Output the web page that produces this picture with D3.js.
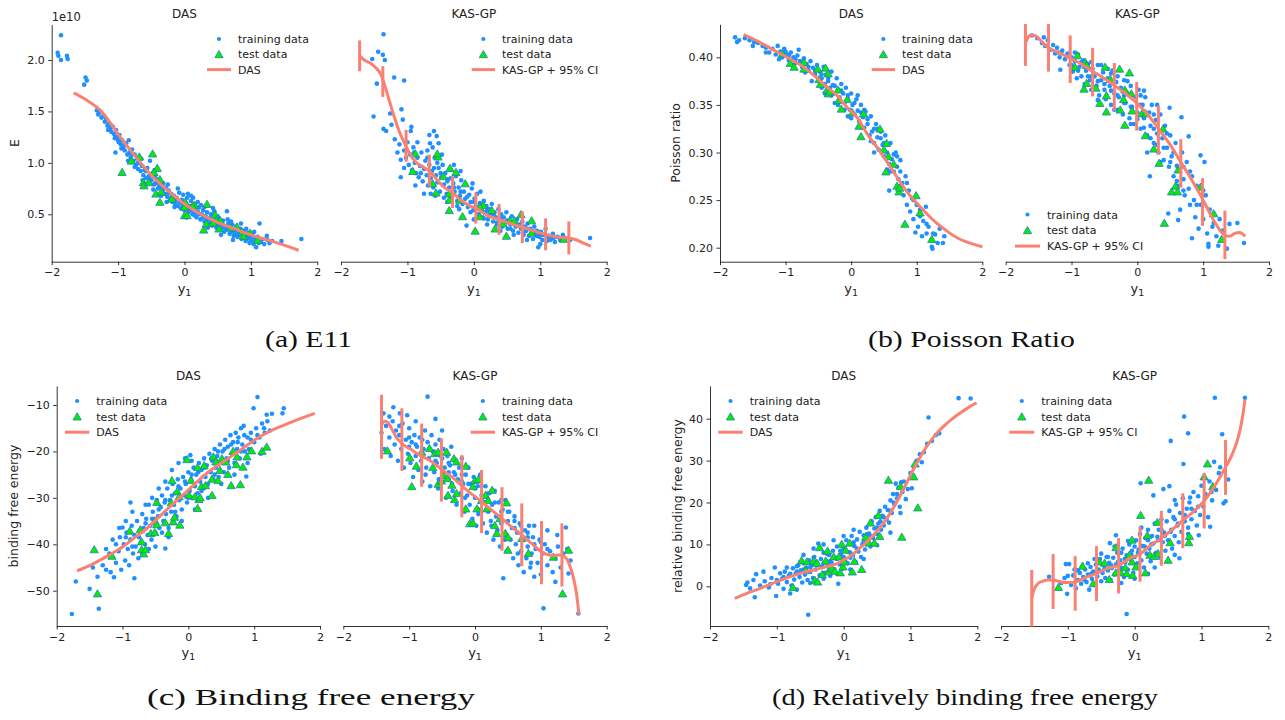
<!DOCTYPE html>
<html><head><meta charset="utf-8">
<script src="https://cdn.jsdelivr.net/npm/d3@7"></script>
<style>body{margin:0;background:#fff}svg{display:block}</style>
</head><body><svg id="c" width="1285" height="720"></svg>
<script>
// ---------------- DATA ----------------
const xTicks = [-2, -1, 0, 1, 2];
const aYTicks = [0.5, 1.0, 1.5, 2.0];
const bYTicks = [0.20, 0.25, 0.30, 0.35, 0.40];
const cYTicks = [-50, -40, -30, -20, -10];
const dYTicks = [0, 10, 20, 30, 40];
const titles = ["DAS", "KAS-GP"];
const legendLabels = ["training data", "test data"];
const lineLabels = ["DAS", "KAS-GP + 95% CI"];
const captions = ["(a) E11", "(b) Poisson Ratio", "(c) Binding free energy", "(d) Relatively binding free energy"];
const yLabels = ["E", "Poisson ratio", "binding free energy", "relative binding free energy"];

// (a) E11  (values in 1e10)
const aDasTrain = [[-1.90,2.04],[-1.91,2.07],[-1.86,2.24],[-1.86,2.00],[-1.77,2.04],[-1.76,2.01],[-1.49,1.83],[-1.51,1.76],[-1.47,1.80],
[-1.32,1.51],[-1.30,1.47],[-1.28,1.49],[-1.22,1.46],[-1.20,1.40],[-1.18,1.43],[-1.16,1.36],[-1.14,1.38],[-1.12,1.33],[-1.10,1.30],[-1.08,1.35],[-1.06,1.28],[-1.04,1.10],[-1.03,1.32],[-1.01,1.25],[-0.99,1.20],[-0.98,1.27],[-0.96,1.18],[-0.94,1.22],[-0.92,1.15],[-0.90,1.12],[-0.88,1.19],[-0.86,1.08],[-0.84,1.22],[-0.83,1.10],[-0.81,1.05],[-0.79,1.13],[-0.77,1.02],[-0.75,1.08],[-0.73,0.98],[-0.71,1.05],[-0.70,0.94],[-0.68,1.00],[-0.66,0.92],[-0.64,0.97],[-0.62,0.88],[-0.60,0.93],[-0.58,0.85],[-0.56,0.95],[-0.54,0.87],[-0.52,1.02],[-0.50,0.83],[-0.48,0.90],[-0.46,0.79],[-0.44,0.86],[-0.42,0.81],[-0.40,0.75],[-0.38,0.84],[-0.36,0.77],[-0.34,0.72],[-0.32,0.80],[-0.30,0.70],[-0.28,0.76],[-0.26,0.67],[-0.24,0.73],[-0.22,0.64],[-0.20,0.70],[-0.18,0.62],[-0.16,0.68],[-0.14,0.60],[-0.12,0.66],[-0.10,0.58],[-0.08,0.71],[-0.06,0.56],[-0.04,0.64],[-0.02,0.69],[0.00,0.54],[0.02,0.61],[0.04,0.66],[0.06,0.52],[0.08,0.58],[0.10,0.63],[0.12,0.50],[0.14,0.56],[0.16,0.60],[0.18,0.47],[0.20,0.53],[0.22,0.57],[0.24,0.45],[0.26,0.50],[0.28,0.54],[0.30,0.43],[0.32,0.48],[0.34,0.52],[0.36,0.41],[0.38,0.46],[0.40,0.50],[0.42,0.39],[0.44,0.44],[0.46,0.48],[0.48,0.37],[0.50,0.42],[0.52,0.46],[0.54,0.35],[0.56,0.40],[0.58,0.44],[0.60,0.33],[0.62,0.38],[0.64,0.53],[0.66,0.41],[0.68,0.31],[0.70,0.36],[0.72,0.40],[0.74,0.29],[0.76,0.34],[0.78,0.38],[0.80,0.28],[0.82,0.32],[0.84,0.36],[0.86,0.26],[0.88,0.31],[0.90,0.34],[0.92,0.24],[0.94,0.29],[0.96,0.32],[0.98,0.22],[1.00,0.27],[1.02,0.30],[1.04,0.21],[1.06,0.26],[1.08,0.18],[1.10,0.28],[1.13,0.41],[1.15,0.23],[1.18,0.26],[1.20,0.21],[1.24,0.29],[1.28,0.22],[1.32,0.24],[1.46,0.24],[1.76,0.26],
[-1.25,1.44],[-1.15,1.32],[-1.05,1.24],[-0.95,1.14],[-0.85,1.02],[-0.75,0.96],[-0.65,1.04],[-0.55,0.80],[-0.45,0.93],[-0.35,0.68],[-0.25,0.79],[-0.15,0.57],[-0.05,0.61],[0.05,0.70],[0.15,0.49],[0.25,0.59],[0.35,0.37],[0.45,0.53],[0.55,0.30],[0.65,0.45],[0.75,0.30],[0.85,0.41],[0.95,0.27],[1.05,0.33],[1.25,0.25],[-0.63,0.83],[-0.27,0.62],[0.03,0.47],[0.33,0.39],[0.63,0.35],[0.93,0.36],[-0.47,0.74],[0.13,0.66],[0.43,0.56],[0.73,0.25],
[-0.58,0.92],[-0.52,0.84],[-0.44,0.80],[-0.38,0.78],[-0.32,0.74],[-0.26,0.70],[-0.20,0.66],[-0.14,0.64],[-0.08,0.62],[-0.02,0.58],[0.04,0.56],[0.10,0.54],[0.16,0.52],[0.22,0.50],[0.28,0.47],[0.34,0.45],[0.40,0.43],[0.46,0.41],[0.52,0.39],[0.58,0.37],[0.64,0.36],[0.70,0.33],[0.76,0.31],[0.82,0.30],[0.88,0.28],[0.94,0.26],[1.00,0.24],[1.06,0.23],[1.12,0.22],[-0.70,1.00],[-0.80,1.08],[-0.90,1.18],[-1.00,1.22],[-1.10,1.36],[0.20,0.62],[0.10,0.68],[-0.10,0.75],[0.50,0.48],[0.70,0.43],[0.30,0.57]];
const aDasTest = [[-0.94,0.91],[-0.80,1.02],[-0.68,1.06],[-0.48,1.09],[-0.41,0.95],[-0.46,0.91],[-0.62,0.81],[-0.61,0.78],[-0.54,0.81],[-0.43,0.70],[-0.37,0.84],[-0.37,0.62],[-0.35,0.72],[-0.19,0.65],[0.01,0.62],[0.00,0.49],[0.04,0.49],[0.00,0.57],[0.15,0.59],[0.12,0.58],[0.34,0.60],[0.29,0.35],[0.33,0.41],[0.46,0.50],[0.48,0.44],[0.43,0.42],[0.52,0.36],[0.54,0.44],[0.70,0.37],[0.79,0.38],[0.87,0.33],[0.99,0.32],[1.10,0.25],[0.89,0.29]];
const aDasCurve = [[-1.67,1.68],[-1.50,1.62],[-1.25,1.50],[-1.00,1.28],[-0.75,1.07],[-0.50,0.88],[-0.25,0.73],[0.00,0.60],[0.25,0.50],[0.50,0.42],[0.75,0.36],[1.00,0.30],[1.25,0.25],[1.50,0.20],[1.72,0.15]];
const aKasTrain = [[-1.36,2.25],[-1.44,2.08],[-1.53,2.01],[-1.37,2.05],[-1.34,2.00],[-1.20,1.83],[-1.46,1.77],[-1.05,1.80],[-1.51,1.45],[-1.26,1.48],[-1.36,1.33],[-1.32,1.31],[-1.09,1.52],[-1.24,1.37],[-1.19,1.23],[-1.07,1.42],[-1.10,1.03],[-1.10,0.86],[-0.94,1.35],[-0.95,1.31],[-0.67,1.27],[-0.60,1.31],[-0.56,1.26],[-0.53,1.19],[-0.66,1.19],
[-1.15,1.10],[-1.12,1.18],[-1.05,1.12],[-1.02,1.05],[-1.00,1.20],[-0.98,0.98],[-0.96,1.08],[-0.93,0.93],[-0.91,1.15],[-0.89,1.00],[-0.87,0.90],[-0.85,1.05],[-0.83,0.86],[-0.81,0.97],[-0.79,1.10],[-0.77,0.82],[-0.75,0.94],[-0.73,1.02],[-0.71,0.88],[-0.69,0.78],[-0.67,0.98],[-0.65,0.85],[-0.63,0.92],[-0.61,0.76],[-0.59,1.05],[-0.57,0.88],[-0.55,0.81],[-0.53,0.95],[-0.51,0.72],[-0.49,0.86],[-0.47,0.98],[-0.45,0.79],[-0.43,0.90],[-0.41,0.70],[-0.39,0.84],[-0.37,0.76],[-0.35,0.93],[-0.33,0.66],[-0.31,0.80],[-0.29,0.72],[-0.27,0.87],[-0.25,0.63],[-0.23,0.76],[-0.21,0.68],[-0.19,0.83],[-0.17,0.60],[-0.15,0.72],[-0.13,0.65],[-0.11,0.39],[-0.09,0.57],[-0.07,0.69],[-0.05,0.62],[-0.03,0.75],[-0.01,0.54],[0.01,0.65],[0.03,0.58],[0.05,0.70],[0.07,0.50],[0.09,0.61],[0.11,0.55],[0.13,0.47],[0.15,0.63],[0.17,0.52],[0.19,0.58],[0.21,0.45],[0.23,0.55],[0.25,0.50],[0.27,0.60],[0.29,0.43],[0.31,0.52],[0.33,0.47],[0.35,0.40],[0.37,0.55],[0.39,0.45],[0.41,0.50],[0.43,0.38],[0.45,0.47],[0.47,0.42],[0.49,0.52],[0.51,0.36],[0.53,0.44],[0.55,0.40],[0.57,0.48],[0.59,0.34],[0.61,0.42],[0.63,0.38],[0.65,0.45],[0.67,0.32],[0.69,0.40],[0.71,0.36],[0.73,0.43],[0.75,0.30],[0.77,0.38],[0.79,0.34],[0.81,0.41],[0.83,0.29],[0.85,0.36],[0.87,0.32],[0.89,0.26],[0.91,0.38],[0.93,0.30],[0.95,0.34],[0.97,0.18],[0.99,0.28],[1.01,0.33],[1.03,0.25],[1.05,0.30],[1.08,0.36],[1.10,0.24],[1.13,0.29],[1.16,0.26],[1.19,0.31],[1.22,0.23],[1.26,0.28],[1.30,0.25],[1.34,0.30],[1.38,0.27],[1.45,0.25],[1.75,0.27],
[-0.85,1.20],[-0.70,1.12],[-0.62,1.15],[-0.48,1.08],[-0.30,0.98],[-0.20,0.92],[-0.02,0.80],[0.10,0.72],[-0.75,0.70],[-0.88,0.78],[-1.05,0.95],[-0.58,0.68],[-0.40,0.62],[-0.22,0.55],[0.00,0.45],[0.20,0.40],[0.40,0.34],[0.60,0.30],[0.80,0.25],[1.00,0.21],
[-0.70,1.05],[-0.60,0.95],[-0.50,0.90],[-0.40,0.82],[-0.30,0.76],[-0.20,0.72],[-0.10,0.67],[0.00,0.62],[0.10,0.58],[0.20,0.54],[0.30,0.50],[0.40,0.47],[0.50,0.44],[0.60,0.41],[0.70,0.38],[0.80,0.36],[0.90,0.33],[1.00,0.30],[1.10,0.28],[1.20,0.27],[-0.65,0.70],[-0.45,0.66],[-0.25,0.58],[-0.05,0.52],[0.15,0.46],[0.35,0.42],[0.55,0.36],[0.75,0.33],[0.95,0.29],[1.15,0.25],[-0.80,0.90],[-0.90,1.10],[-0.55,1.00],[-0.35,0.85]];
const aKasTest = [[-0.88,1.09],[-0.92,0.92],[-0.54,1.06],[-0.55,1.09],[-0.62,0.80],[-0.57,0.71],[-0.46,0.87],[-0.36,0.95],[-0.27,0.91],[-0.13,0.80],[-0.37,0.70],[-0.37,0.64],[-0.37,0.54],[-0.17,0.48],[-0.21,0.64],[0.02,0.34],[0.09,0.48],[0.14,0.59],[0.27,0.54],[0.32,0.36],[0.44,0.41],[0.49,0.29],[0.54,0.44],[0.61,0.44],[0.71,0.50],[0.87,0.44],[0.87,0.32],[1.35,0.26],[0.09,0.57]];
const aKasCurve = [[-1.72,2.04],[-1.65,2.00],[-1.56,1.97],[-1.47,1.92],[-1.40,1.86],[-1.35,1.77],[-1.28,1.62],[-1.20,1.45],[-1.12,1.30],[-1.02,1.16],[-0.94,1.06],[-0.86,1.00],[-0.76,0.96],[-0.67,0.92],[-0.56,0.84],[-0.46,0.77],[-0.32,0.71],[-0.20,0.64],[-0.05,0.58],[0.03,0.56],[0.20,0.49],[0.38,0.45],[0.55,0.41],[0.73,0.375],[0.90,0.34],[1.08,0.305],[1.25,0.28],[1.42,0.27],[1.55,0.25],[1.65,0.22],[1.76,0.19]];
const aKasCiX = [-1.72,-1.37,-1.02,-0.67,-0.32,0.03,0.38,0.73,1.08,1.43];
const aKasCiLo = [1.89,1.64,1.01,0.77,0.56,0.41,0.30,0.22,0.15,0.11];
const aKasCiHi = [2.19,1.94,1.32,1.08,0.87,0.71,0.60,0.53,0.46,0.43];

// (b) Poisson ratio
const bDasTrain = [[-1.77,0.421],[-1.71,0.418],[-1.74,0.416],[-1.62,0.420],[-1.55,0.418],[-1.48,0.416],[-1.42,0.415],[-1.35,0.412],[-1.30,0.410],[-1.25,0.405],[-1.20,0.409],[-1.15,0.403],[-1.12,0.412],[-1.08,0.406],[-1.05,0.400],[-1.02,0.409],[-0.98,0.403],[-0.95,0.397],[-0.92,0.405],[-0.88,0.400],[-0.85,0.394],[-0.82,0.402],[-0.78,0.396],[-0.75,0.390],[-0.72,0.399],[-0.68,0.393],[-0.65,0.386],[-0.62,0.396],[-0.58,0.389],[-0.55,0.382],[-0.52,0.392],[-0.48,0.385],[-0.45,0.378],[-0.42,0.390],[-0.40,0.372],[-0.38,0.382],[-0.35,0.375],[-0.32,0.368],[-0.30,0.385],[-0.28,0.371],[-0.25,0.362],[-0.22,0.378],[-0.20,0.366],[-0.18,0.358],[-0.15,0.372],[-0.12,0.362],[-0.10,0.352],[-0.08,0.368],[-0.05,0.356],[-0.02,0.345],[0.00,0.362],[0.02,0.350],[0.05,0.340],[0.08,0.356],[0.10,0.344],[0.12,0.333],[0.15,0.350],[0.18,0.337],[0.20,0.326],[0.22,0.343],[0.25,0.330],[0.28,0.318],[0.30,0.338],[0.32,0.322],[0.35,0.310],[0.38,0.330],[0.40,0.316],[0.42,0.303],[0.45,0.322],[0.48,0.308],[0.50,0.296],[0.52,0.318],[0.55,0.300],[0.58,0.288],[0.58,0.260],[0.60,0.310],[0.62,0.293],[0.65,0.280],[0.68,0.300],[0.70,0.285],[0.72,0.272],[0.74,0.264],[0.75,0.292],[0.78,0.268],[0.80,0.255],[0.83,0.275],[0.85,0.245],[0.88,0.260],[0.90,0.238],[0.93,0.252],[0.95,0.230],[0.98,0.216],[1.00,0.245],[1.02,0.222],[1.05,0.233],[1.08,0.212],[1.10,0.228],[1.14,0.243],[1.15,0.215],[1.18,0.222],[1.22,0.208],[1.23,0.201],[1.24,0.199],[1.28,0.214],[1.32,0.205],[1.35,0.220],[1.40,0.205],[1.42,0.212],
[-0.90,0.392],[-0.70,0.384],[-0.50,0.376],[-0.30,0.360],[-0.10,0.345],[0.10,0.360],[0.20,0.345],[0.30,0.312],[0.40,0.325],[0.50,0.310],[0.60,0.280],[0.70,0.296],[-0.60,0.375],[-0.40,0.362],[-0.20,0.350],[0.00,0.336],[-1.10,0.398],[-0.80,0.408],
[-1.00,0.406],[-0.95,0.402],[-0.85,0.398],[-0.75,0.395],[-0.65,0.390],[-0.55,0.386],[-0.45,0.382],[-0.35,0.378],[-0.25,0.370],[-0.15,0.365],[-0.05,0.360],[0.05,0.352],[0.15,0.342],[0.25,0.335],[0.35,0.325],[0.45,0.315],[0.55,0.308],[0.65,0.298],[0.75,0.280],[0.85,0.268],[0.95,0.250],[1.05,0.240],[1.15,0.225],[1.25,0.215],[-0.45,0.368],[-0.25,0.352],[-0.05,0.338],[0.15,0.326],[0.35,0.300],[0.55,0.282],[-1.30,0.405],[-1.50,0.412]];
const bDasTest = [[-1.05,0.404],[-0.93,0.394],[-0.87,0.390],[-0.72,0.395],[-0.72,0.388],[-0.51,0.388],[-0.49,0.377],[-0.47,0.372],[-0.39,0.389],[-0.35,0.383],[-0.37,0.366],[-0.35,0.362],[-0.33,0.364],[-0.20,0.366],[-0.19,0.355],[-0.15,0.346],[-0.06,0.356],[0.02,0.342],[0.19,0.341],[0.12,0.328],[0.15,0.317],[0.44,0.325],[0.50,0.303],[0.54,0.310],[0.57,0.296],[0.53,0.280],[0.65,0.288],[0.70,0.265],[0.73,0.259],[0.82,0.225],[0.99,0.255],[1.05,0.237],[1.23,0.209],[0.74,0.263]];
const bDasCurve = [[-1.64,0.424],[-1.40,0.416],[-1.19,0.408],[-0.95,0.399],[-0.73,0.390],[-0.55,0.380],[-0.37,0.369],[-0.20,0.359],[-0.07,0.348],[0.10,0.336],[0.24,0.320],[0.40,0.305],[0.55,0.290],[0.70,0.274],[0.85,0.259],[1.00,0.247],[1.15,0.236],[1.30,0.226],[1.45,0.218],[1.60,0.211],[1.80,0.205],[2.00,0.201]];
const bKasTrain = [[-1.60,0.423],[-1.52,0.420],[-1.45,0.415],[-1.42,0.421],[-1.40,0.412],[-1.36,0.418],[-1.32,0.408],[-1.28,0.413],[-1.25,0.404],[-1.22,0.410],[-1.17,0.387],[-1.18,0.400],[-1.14,0.407],[-1.10,0.398],[-1.06,0.404],[-1.03,0.392],[-1.00,0.400],[-0.98,0.385],[-0.95,0.396],[-0.92,0.378],[-0.90,0.403],[-0.88,0.390],[-0.85,0.380],[-0.82,0.397],[-0.80,0.372],[-0.78,0.386],[-0.75,0.393],[-0.72,0.376],[-0.70,0.366],[-0.68,0.388],[-0.65,0.380],[-0.62,0.370],[-0.60,0.392],[-0.58,0.360],[-0.55,0.376],[-0.52,0.384],[-0.50,0.366],[-0.48,0.356],[-0.45,0.378],[-0.42,0.370],[-0.40,0.350],[-0.38,0.386],[-0.35,0.362],[-0.32,0.374],[-0.30,0.345],[-0.28,0.358],[-0.25,0.368],[-0.22,0.340],[-0.20,0.376],[-0.18,0.352],[-0.15,0.362],[-0.12,0.336],[-0.10,0.370],[-0.08,0.348],[-0.05,0.330],[-0.02,0.358],[0.00,0.342],[0.02,0.366],[0.05,0.325],[0.08,0.350],[0.10,0.336],[0.12,0.358],[0.15,0.318],[0.18,0.342],[0.19,0.275],[0.20,0.328],[0.22,0.350],[0.25,0.310],[0.28,0.334],[0.30,0.320],[0.32,0.300],[0.35,0.340],[0.38,0.315],[0.40,0.292],[0.42,0.328],[0.45,0.305],[0.47,0.236],[0.48,0.285],[0.49,0.347],[0.50,0.318],[0.52,0.296],[0.55,0.275],[0.58,0.310],[0.60,0.286],[0.62,0.229],[0.62,0.265],[0.65,0.240],[0.67,0.337],[0.68,0.300],[0.70,0.272],[0.72,0.255],[0.75,0.290],[0.78,0.317],[0.78,0.262],[0.80,0.245],[0.83,0.210],[0.83,0.275],[0.86,0.250],[0.88,0.232],[0.90,0.265],[0.93,0.220],[0.96,0.297],[0.96,0.245],[1.00,0.230],[1.02,0.290],[1.04,0.255],[1.06,0.215],[1.08,0.204],[1.08,0.201],[1.10,0.240],[1.14,0.222],[1.16,0.226],[1.20,0.212],[1.23,0.202],[1.25,0.230],[1.30,0.218],[1.36,0.199],[1.40,0.225],[1.52,0.226],[1.62,0.205],
[-0.95,0.405],[-0.70,0.395],[-0.45,0.388],[-0.20,0.360],[0.05,0.350],[0.25,0.325],[-0.60,0.355],[-0.35,0.345],[-0.10,0.330],[0.15,0.300],[0.35,0.290],[0.55,0.300],[0.70,0.285],[-0.85,0.395],[-0.30,0.380],[0.10,0.365],
[-1.20,0.405],[-1.00,0.392],[-0.90,0.386],[-0.80,0.390],[-0.70,0.380],[-0.60,0.375],[-0.50,0.372],[-0.40,0.365],[-0.30,0.360],[-0.20,0.352],[-0.10,0.348],[0.00,0.335],[0.10,0.326],[0.20,0.315],[0.30,0.308],[0.40,0.305],[0.50,0.290],[0.60,0.270],[0.70,0.260],[0.80,0.280],[0.90,0.245],[1.00,0.260],[-0.55,0.392],[-0.15,0.375],[0.05,0.360],[0.25,0.340],[0.45,0.320],[-0.75,0.380],[-0.40,0.383],[0.30,0.350]];
const bKasTest = [[-0.91,0.402],[-0.95,0.390],[-0.79,0.395],[-0.77,0.392],[-0.81,0.367],[-0.77,0.373],[-0.63,0.368],[-0.57,0.352],[-0.49,0.390],[-0.47,0.343],[-0.47,0.360],[-0.41,0.377],[-0.27,0.388],[-0.26,0.345],[-0.19,0.329],[-0.21,0.356],[-0.12,0.384],[-0.19,0.366],[-0.09,0.362],[-0.08,0.344],[0.07,0.341],[0.13,0.341],[0.12,0.318],[0.25,0.304],[0.33,0.289],[0.39,0.325],[0.52,0.259],[0.58,0.265],[0.61,0.259],[0.62,0.282],[0.96,0.264],[1.16,0.236],[1.28,0.209],[0.41,0.226]];
const bKasCurve = [[-1.70,0.415],[-1.66,0.421],[-1.62,0.4235],[-1.56,0.423],[-1.50,0.420],[-1.42,0.414],[-1.35,0.410],[-1.20,0.405],[-1.02,0.399],[-0.85,0.393],[-0.72,0.387],[-0.55,0.380],[-0.36,0.371],[-0.18,0.362],[-0.01,0.352],[0.16,0.340],[0.32,0.325],[0.50,0.308],[0.65,0.291],[0.82,0.272],[1.00,0.250],[1.15,0.230],[1.26,0.218],[1.33,0.213],[1.40,0.212],[1.48,0.215],[1.55,0.216],[1.64,0.212]];
const bKasCiX = [-1.70,-1.35,-1.02,-0.68,-0.35,-0.01,0.32,0.66,0.99,1.33];
const bKasCiLo = [0.391,0.385,0.373,0.359,0.344,0.323,0.298,0.263,0.223,0.188];
const bKasCiHi = [0.435,0.435,0.423,0.410,0.394,0.374,0.349,0.314,0.273,0.239];

// (c) Binding free energy
const cDasTrain = [[-1.77,-55.0],[-1.71,-48.0],[-1.50,-49.6],[-1.38,-47.0],[-1.36,-53.9],[-1.13,-47.1],[-0.82,-47.3],[-0.88,-31.0],[-1.00,-36.4],[1.05,-8.3],[0.99,-10.7],[1.43,-11.8],[1.45,-10.7],[1.19,-12.1],[1.27,-11.9],[-0.35,-40.9],[0.88,-25.4],[0.03,-20.8],
[-1.45,-45.0],[-1.30,-44.5],[-1.25,-45.5],[-1.20,-42.0],[-1.18,-46.0],[-1.15,-39.0],[-1.10,-44.0],[-1.06,-41.5],[-1.04,-38.5],[-1.02,-45.5],[-0.98,-40.0],[-0.96,-43.5],[-0.94,-37.5],[-0.92,-41.0],[-0.90,-44.5],[-0.88,-39.0],[-0.86,-36.0],[-0.84,-42.0],[-0.82,-38.0],[-0.80,-40.5],[-0.78,-35.0],[-0.76,-43.0],[-0.74,-37.0],[-0.72,-39.5],[-0.70,-33.5],[-0.68,-36.5],[-0.66,-40.0],[-0.64,-34.5],[-0.62,-38.0],[-0.60,-31.5],[-0.58,-36.0],[-0.56,-39.0],[-0.54,-33.0],[-0.52,-35.5],[-0.50,-37.5],[-0.48,-30.5],[-0.46,-34.0],[-0.44,-36.5],[-0.42,-32.0],[-0.40,-29.5],[-0.38,-35.0],[-0.36,-31.0],[-0.34,-33.5],[-0.32,-28.0],[-0.30,-36.5],[-0.28,-30.5],[-0.26,-33.0],[-0.24,-27.0],[-0.22,-31.5],[-0.20,-29.0],[-0.18,-34.0],[-0.16,-26.0],[-0.14,-30.5],[-0.12,-28.0],[-0.10,-32.5],[-0.08,-25.5],[-0.06,-29.5],[-0.04,-27.0],[-0.02,-31.0],[0.00,-24.5],[0.02,-28.5],[0.04,-26.0],[0.06,-30.0],[0.08,-23.5],[0.10,-27.5],[0.12,-25.0],[0.14,-29.0],[0.16,-22.5],[0.18,-26.5],[0.20,-24.0],[0.22,-28.0],[0.24,-21.5],[0.26,-25.5],[0.28,-23.0],[0.30,-27.0],[0.32,-20.5],[0.34,-24.5],[0.36,-22.0],[0.38,-26.0],[0.40,-19.5],[0.42,-23.5],[0.44,-21.0],[0.46,-25.5],[0.48,-18.5],[0.50,-22.5],[0.52,-20.0],[0.54,-24.5],[0.56,-17.5],[0.58,-21.5],[0.60,-19.0],[0.62,-23.5],[0.64,-16.5],[0.66,-20.5],[0.68,-18.0],[0.70,-22.5],[0.72,-16.0],[0.74,-19.5],[0.76,-17.0],[0.78,-21.5],[0.80,-15.0],[0.82,-18.5],[0.84,-14.5],[0.86,-20.0],[0.90,-17.0],[0.92,-19.5],[0.95,-16.0],[1.00,-18.0],[1.03,-15.0],[1.08,-17.0],[1.12,-14.0],[1.16,-16.0],[1.20,-13.5],[1.24,-15.5],
[-1.05,-36.5],[-0.95,-35.0],[-0.85,-33.0],[-0.65,-31.5],[-0.55,-30.0],[-0.45,-28.0],[-0.35,-26.5],[-0.25,-24.0],[-0.15,-22.5],[-0.05,-21.5],[0.05,-22.0],[-0.70,-42.0],[-0.50,-40.5],[-0.30,-38.5],[-0.10,-35.0],[0.10,-32.5],[0.30,-30.0],[0.50,-27.0],[0.70,-25.0],[0.90,-22.5],[1.10,-20.5],
[-0.95,-38.5],[-0.85,-40.5],[-0.75,-38.5],[-0.65,-35.5],[-0.55,-34.5],[-0.45,-32.5],[-0.35,-30.5],[-0.25,-29.5],[-0.15,-27.5],[-0.05,-26.5],[0.05,-25.0],[0.15,-24.5],[0.25,-23.5],[0.35,-21.5],[0.45,-20.0],[0.55,-19.5],[0.65,-18.5],[0.75,-18.0],[0.85,-16.5],[0.95,-17.5],[1.05,-16.5],[1.15,-15.0],[-0.60,-41.0],[-0.40,-37.5],[-0.20,-33.0],[0.00,-30.0],[0.20,-28.5],[0.40,-25.0],[0.60,-22.0],[0.80,-20.0],[-1.10,-40.0],[-1.25,-41.0]];
const cDasTest = [[-1.43,-41.1],[-1.38,-50.6],[-1.16,-42.5],[-0.89,-37.1],[-0.73,-36.8],[-0.71,-41.1],[-0.68,-42.0],[-0.65,-41.1],[-0.71,-39.4],[-0.57,-37.6],[-0.51,-37.4],[-0.48,-30.9],[-0.51,-34.9],[-0.48,-35.7],[-0.35,-35.3],[-0.30,-37.6],[-0.26,-31.0],[-0.25,-26.2],[-0.23,-35.1],[-0.21,-34.1],[-0.17,-28.6],[-0.14,-29.7],[-0.13,-35.8],[-0.02,-21.7],[0.01,-29.4],[0.04,-26.2],[0.10,-29.7],[0.14,-23.4],[0.14,-32.2],[0.16,-30.3],[0.18,-29.9],[0.20,-27.5],[0.24,-23.0],[0.26,-27.3],[0.36,-29.4],[0.38,-21.1],[0.36,-25.9],[0.42,-22.2],[0.45,-26.2],[0.48,-24.0],[0.51,-21.5],[0.60,-24.9],[0.65,-27.3],[0.68,-19.9],[0.73,-22.8],[0.74,-21.1],[0.79,-27.1],[0.83,-23.3],[0.89,-21.1],[0.96,-19.8],[1.12,-19.9],[1.19,-19.0],[0.57,-22.2]];
const cDasCurve = [[-1.69,-45.7],[-1.50,-44.6],[-1.34,-43.4],[-1.15,-41.9],[-0.99,-40.5],[-0.80,-38.4],[-0.63,-36.6],[-0.48,-34.6],[-0.33,-32.6],[-0.18,-30.6],[-0.03,-28.7],[0.12,-26.7],[0.28,-24.7],[0.48,-22.7],[0.68,-20.8],[0.88,-18.8],[1.09,-16.8],[1.25,-15.6],[1.39,-14.7],[1.65,-13.2],[1.92,-11.8]];
const cKasTrain = [[-1.39,-11.8],[-1.24,-10.5],[-1.14,-11.8],[-1.03,-12.2],[-0.72,-8.2],[1.04,-53.8],[0.43,-47.3],[1.38,-36.4],[1.42,-46.3],[1.22,-48.1],[1.57,-54.9],
[-1.42,-16.0],[-1.38,-19.5],[-1.35,-14.5],[-1.30,-17.0],[-1.28,-21.0],[-1.25,-13.5],[-1.22,-18.5],[-1.20,-15.5],[-1.17,-22.0],[-1.15,-16.5],[-1.12,-19.5],[-1.10,-14.0],[-1.08,-23.5],[-1.05,-17.5],[-1.02,-20.5],[-1.00,-15.0],[-0.98,-22.5],[-0.96,-18.0],[-0.94,-25.5],[-0.92,-16.5],[-0.90,-21.0],[-0.88,-19.0],[-0.86,-24.0],[-0.84,-17.0],[-0.82,-22.0],[-0.80,-26.5],[-0.78,-19.5],[-0.76,-15.5],[-0.74,-23.5],[-0.72,-18.0],[-0.70,-21.5],[-0.68,-27.5],[-0.66,-16.5],[-0.64,-20.0],[-0.62,-24.5],[-0.60,-18.5],[-0.58,-22.5],[-0.56,-28.0],[-0.54,-17.5],[-0.52,-21.0],[-0.50,-25.5],[-0.48,-19.5],[-0.46,-23.5],[-0.44,-30.0],[-0.42,-21.0],[-0.40,-26.0],[-0.38,-23.0],[-0.36,-19.0],[-0.34,-28.5],[-0.32,-24.5],[-0.30,-22.0],[-0.28,-31.5],[-0.26,-26.0],[-0.24,-23.5],[-0.22,-29.0],[-0.20,-21.5],[-0.18,-27.0],[-0.16,-33.0],[-0.14,-25.0],[-0.12,-29.5],[-0.10,-23.5],[-0.08,-31.5],[-0.06,-27.0],[-0.04,-34.5],[-0.02,-25.5],[0.00,-30.0],[0.02,-36.0],[0.04,-27.5],[0.06,-32.5],[0.08,-25.0],[0.10,-29.5],[0.12,-35.5],[0.14,-31.0],[0.16,-27.5],[0.18,-37.5],[0.20,-33.0],[0.22,-29.0],[0.24,-35.0],[0.26,-31.5],[0.28,-39.0],[0.30,-28.5],[0.32,-34.0],[0.34,-37.0],[0.36,-31.0],[0.38,-40.5],[0.40,-35.5],[0.42,-32.5],[0.44,-38.0],[0.46,-30.5],[0.48,-41.5],[0.50,-35.0],[0.52,-33.0],[0.54,-39.0],[0.56,-36.5],[0.58,-43.0],[0.60,-34.0],[0.62,-40.0],[0.64,-37.5],[0.66,-44.5],[0.68,-35.5],[0.70,-41.5],[0.72,-39.0],[0.74,-46.0],[0.76,-37.0],[0.78,-43.0],[0.80,-40.5],[0.82,-36.0],[0.84,-45.0],[0.86,-42.0],[0.88,-38.5],[0.90,-47.0],[0.92,-41.0],[0.95,-44.0],[0.98,-39.0],[1.00,-46.5],[1.03,-42.0],[1.06,-40.0],[1.10,-44.5],[1.14,-41.5],[1.18,-46.0],[1.22,-43.0],[1.26,-40.5],[1.30,-45.0],[1.34,-42.0],[1.40,-41.0],[1.45,-43.5],
[-1.00,-19.0],[-0.80,-20.5],[-0.60,-22.0],[-0.40,-24.5],[-0.20,-26.5],[0.00,-28.0],[0.20,-30.5],[0.40,-33.0],[0.60,-36.5],[0.80,-38.5],[-0.90,-13.5],[-0.60,-13.0],[-0.50,-15.5],[1.25,-38.0],[1.10,-37.0],[0.90,-36.0],
[-1.30,-12.5],[-1.15,-14.5],[-1.00,-17.0],[-0.90,-18.5],[-0.80,-17.5],[-0.70,-19.5],[-0.60,-20.5],[-0.50,-21.5],[-0.40,-22.5],[-0.30,-25.0],[-0.20,-25.0],[-0.10,-27.0],[0.00,-26.5],[0.10,-27.5],[0.20,-29.0],[0.30,-31.0],[0.40,-30.5],[0.50,-33.0],[0.60,-35.0],[0.70,-36.0],[0.80,-37.5],[0.90,-40.0],[1.00,-39.5],[1.10,-41.0],[-0.75,-25.0],[-0.55,-26.0],[-0.35,-27.0],[-0.15,-30.0],[0.05,-33.5],[0.25,-36.0],[0.45,-39.0],[0.65,-42.0],[0.85,-44.0]];
const cKasTest = [[-1.33,-19.8],[-0.96,-27.5],[-0.99,-21.3],[-0.89,-23.1],[-0.81,-20.1],[-0.69,-19.3],[-0.64,-23.4],[-0.61,-20.4],[-0.56,-20.1],[-0.56,-27.0],[-0.48,-25.1],[-0.51,-26.3],[-0.43,-20.1],[-0.42,-25.8],[-0.41,-29.4],[-0.35,-27.2],[-0.32,-21.5],[-0.31,-30.3],[-0.28,-22.2],[-0.28,-29.0],[-0.14,-23.1],[-0.14,-32.3],[-0.08,-35.5],[-0.03,-35.4],[-0.03,-27.5],[0.00,-26.2],[0.03,-32.3],[0.05,-26.0],[0.10,-30.5],[0.16,-29.4],[0.18,-32.3],[0.20,-30.5],[0.26,-28.3],[0.30,-35.9],[0.33,-37.6],[0.38,-34.4],[0.46,-37.6],[0.48,-31.0],[0.50,-38.5],[0.50,-41.2],[0.71,-38.7],[0.81,-41.9],[1.19,-42.7],[1.33,-50.6],[1.42,-41.2]];
const cKasCurve = [[-1.42,-14.3],[-1.37,-13.5],[-1.32,-13.8],[-1.27,-15.0],[-1.20,-16.8],[-1.11,-18.3],[-0.97,-19.6],[-0.84,-20.8],[-0.68,-22.0],[-0.51,-23.8],[-0.35,-25.5],[-0.20,-27.4],[-0.05,-29.2],[0.10,-30.8],[0.25,-32.6],[0.41,-34.5],[0.56,-36.3],[0.71,-38.0],[0.86,-39.8],[1.01,-41.6],[1.10,-42.2],[1.19,-42.4],[1.27,-42.3],[1.34,-42.5],[1.40,-43.3],[1.45,-45.0],[1.50,-47.5],[1.54,-50.5],[1.58,-55.2]];
const cKasCiX = [-1.42,-1.11,-0.81,-0.51,-0.20,0.10,0.41,0.71,1.01,1.32];
const cKasCiLo = [-21.6,-24.2,-27.6,-30.8,-34.2,-37.6,-41.4,-44.7,-48.6,-49.1];
const cKasCiHi = [-7.8,-10.7,-14.0,-17.2,-20.8,-24.0,-27.7,-31.2,-35.0,-35.5];

// (d) Relative binding free energy
const dDasTrain = [[1.72,44.9],[1.90,44.8],[1.27,40.3],[1.32,34.7],[1.38,36.1],[1.43,36.5],[1.17,29.6],[1.02,23.4],[0.93,20.8],[-0.53,-6.8],[-1.44,0.9],[-1.31,2.9],[-1.33,-2.6],[-1.01,-2.3],[-1.03,4.5],[-0.95,3.1],[-0.80,-1.7],
[-1.46,0.3],[-1.40,-0.5],[-1.25,0.2],[-1.18,1.2],[-1.12,-0.3],[-1.08,2.0],[-0.98,0.6],[-0.92,1.8],[-0.90,-0.6],[-0.88,3.5],[-0.85,1.0],[-0.82,2.5],[-0.78,0.2],[-0.76,4.3],[-0.74,1.6],[-0.72,3.0],[-0.70,-0.8],[-0.68,5.0],[-0.66,2.2],[-0.64,3.8],[-0.62,0.9],[-0.60,5.5],[-0.58,2.8],[-0.56,4.4],[-0.54,1.5],[-0.52,6.2],[-0.50,3.4],[-0.48,5.0],[-0.46,2.0],[-0.44,7.0],[-0.42,4.0],[-0.40,5.7],[-0.38,10.2],[-0.36,2.6],[-0.34,6.5],[-0.32,4.6],[-0.30,8.0],[-0.28,3.2],[-0.26,6.0],[-0.24,4.8],[-0.22,7.5],[-0.20,2.5],[-0.18,5.6],[-0.16,8.5],[-0.14,4.0],[-0.12,6.8],[-0.10,9.5],[-0.08,0.6],[-0.06,5.2],[-0.04,7.6],[-0.02,4.2],[0.00,9.0],[0.02,6.2],[0.04,11.0],[0.06,5.5],[0.08,8.2],[0.10,6.8],[0.12,12.0],[0.14,7.5],[0.16,9.6],[0.18,5.8],[0.20,11.2],[0.22,8.3],[0.24,13.0],[0.26,7.0],[0.28,10.0],[0.30,12.2],[0.32,8.8],[0.34,14.0],[0.36,10.5],[0.38,12.6],[0.40,9.5],[0.42,15.5],[0.44,11.5],[0.46,13.8],[0.48,16.5],[0.50,12.5],[0.52,15.0],[0.54,18.0],[0.56,13.5],[0.58,16.8],[0.60,14.5],[0.62,19.0],[0.64,16.0],[0.66,18.2],[0.68,15.2],[0.70,20.5],[0.72,17.5],[0.74,22.0],[0.76,19.5],[0.78,24.5],[0.80,21.0],[0.82,23.5],[0.84,19.0],[0.86,24.8],[0.88,22.5],[0.90,25.0],[0.96,23.2],[1.00,27.0],[1.05,28.5],[1.10,30.0],[1.14,31.5],[1.20,32.0],[1.25,34.0],
[-0.60,7.5],[-0.45,9.0],[-0.30,10.0],[-0.15,11.0],[0.00,12.0],[0.15,13.5],[-0.70,4.8],[-0.50,0.8],[-0.30,1.8],[-0.10,3.0],[0.10,4.0],[0.30,6.5],[0.50,9.8],[0.70,12.8],[-1.20,3.5],[-1.35,1.5],
[-1.10,0.5],[-1.00,1.5],[-0.90,2.2],[-0.80,3.0],[-0.70,3.5],[-0.60,4.0],[-0.50,4.5],[-0.40,5.0],[-0.30,5.5],[-0.20,6.0],[-0.10,6.5],[0.00,7.0],[0.10,8.0],[0.20,9.0],[0.30,10.5],[0.40,12.0],[0.50,14.0],[0.60,16.5],[0.70,18.0],[0.80,22.0],[-0.85,4.5],[-0.65,5.8],[-0.45,6.8],[-0.25,7.8],[-0.05,8.5],[0.15,10.5],[0.35,12.5],[0.55,15.5],[0.75,20.0],[0.85,17.5]];
const dDasTest = [[-0.76,-0.2],[-0.63,6.2],[-0.57,3.9],[-0.55,5.9],[-0.45,6.1],[-0.40,5.6],[-0.43,1.5],[-0.39,1.1],[-0.36,9.3],[-0.32,2.9],[-0.27,6.1],[-0.24,8.5],[-0.23,3.5],[-0.18,4.3],[-0.15,7.1],[-0.13,3.7],[-0.07,7.1],[-0.05,3.3],[-0.03,10.1],[-0.01,4.7],[0.01,5.9],[0.03,8.7],[0.09,10.4],[0.13,3.5],[0.16,6.0],[0.27,4.1],[0.33,11.8],[0.38,10.4],[0.40,15.2],[0.46,10.4],[0.52,17.0],[0.54,12.0],[0.67,25.4],[0.85,23.9],[0.87,11.8],[1.07,29.3],[1.05,26.2],[1.11,18.8]];
const dDasCurve = [[-1.63,-2.9],[-1.45,-1.7],[-1.25,-0.5],[-1.00,1.1],[-0.80,2.3],[-0.65,3.1],[-0.45,3.9],[-0.25,4.7],[-0.10,5.4],[0.00,6.3],[0.12,7.4],[0.24,9.1],[0.36,10.8],[0.49,13.0],[0.62,15.6],[0.74,18.6],[0.84,21.5],[0.94,24.6],[1.02,27.2],[1.09,29.3],[1.16,31.2],[1.24,33.3],[1.36,35.9],[1.49,38.1],[1.62,39.9],[1.74,41.3],[1.87,42.7],[1.99,43.8]];
const dKasTrain = [[1.20,45.0],[1.65,45.0],[0.74,40.5],[0.80,36.5],[0.54,34.7],[0.73,29.2],[1.31,36.3],[1.19,29.7],[1.28,28.4],[-0.12,-6.6],[-0.28,12.2],[-0.37,10.3],[0.09,24.6],[0.43,23.2],[0.52,23.9],[0.28,21.7],[0.60,20.6],[0.83,21.2],[-1.03,5.3],[-0.98,5.3],[-1.28,2.3],[-1.01,-1.8],[1.13,14.2],[1.33,19.8],[1.36,20.3],[0.96,12.2],[0.67,6.7],
[-1.10,0.8],[-1.05,2.0],[-0.95,0.3],[-0.92,2.6],[-0.88,-0.5],[-0.85,1.5],[-0.82,3.2],[-0.80,0.6],[-0.77,2.2],[-0.74,4.0],[-0.72,1.0],[-0.70,2.8],[-0.68,-0.8],[-0.66,4.6],[-0.64,1.8],[-0.62,3.5],[-0.60,0.3],[-0.58,5.2],[-0.56,2.4],[-0.54,4.0],[-0.52,6.5],[-0.50,1.2],[-0.48,3.2],[-0.46,5.0],[-0.44,2.0],[-0.42,7.0],[-0.40,3.8],[-0.38,5.6],[-0.36,1.5],[-0.34,4.4],[-0.32,6.8],[-0.30,2.8],[-0.28,5.2],[-0.26,8.0],[-0.24,3.5],[-0.22,6.2],[-0.20,4.4],[-0.18,9.0],[-0.16,2.2],[-0.14,5.8],[-0.12,7.4],[-0.10,4.0],[-0.08,10.0],[-0.06,6.4],[-0.04,8.5],[-0.02,3.2],[0.00,7.0],[0.02,11.0],[0.04,5.5],[0.06,8.8],[0.08,12.5],[0.10,6.2],[0.12,9.6],[0.14,4.5],[0.16,11.5],[0.18,7.8],[0.20,13.5],[0.22,9.0],[0.24,6.0],[0.26,12.0],[0.28,10.2],[0.30,15.0],[0.32,8.0],[0.34,11.8],[0.36,13.5],[0.38,6.8],[0.40,16.0],[0.42,10.5],[0.44,12.8],[0.46,8.5],[0.48,15.5],[0.50,11.0],[0.52,18.0],[0.54,13.0],[0.56,9.0],[0.58,16.5],[0.60,12.0],[0.62,19.5],[0.64,14.5],[0.66,10.5],[0.68,17.5],[0.70,13.0],[0.72,21.0],[0.75,15.5],[0.78,18.5],[0.80,12.5],[0.82,20.0],[0.85,16.0],[0.88,22.5],[0.90,18.0],[0.93,14.5],[0.95,21.5],[0.98,17.0],[1.00,24.0],[1.03,19.0],[1.06,22.0],[1.10,16.5],[1.12,25.0],[1.16,20.5],[1.22,23.0],[1.26,27.0],[1.40,25.5],
[-0.70,5.5],[-0.50,7.8],[-0.30,9.5],[-0.10,10.8],[0.10,14.0],[-0.20,0.8],[0.00,1.8],[0.20,3.0],[-0.90,4.0],[0.60,7.5],[0.30,4.5],
[-1.00,2.5],[-0.85,3.8],[-0.75,1.5],[-0.65,3.0],[-0.55,3.5],[-0.45,4.2],[-0.35,5.0],[-0.25,5.8],[-0.15,6.5],[-0.05,7.5],[0.05,8.0],[0.15,9.5],[0.25,10.0],[0.35,11.0],[0.45,12.0],[0.55,13.5],[0.65,15.0],[0.75,17.0],[0.85,18.5],[0.95,19.0],[1.05,21.0],[1.15,22.5],[-0.60,6.5],[-0.40,7.0],[-0.20,8.0],[0.00,9.5],[0.20,11.0],[0.40,13.5],[0.60,16.0],[0.80,14.0]];
const dKasTest = [[-1.14,-0.2],[-0.78,4.9],[-0.53,5.9],[-0.45,5.6],[-0.38,1.7],[-0.62,0.7],[-0.28,9.3],[-0.28,3.3],[-0.21,3.3],[-0.14,4.5],[-0.12,3.1],[-0.08,7.5],[-0.04,11.1],[-0.04,5.9],[-0.03,2.7],[0.02,4.7],[0.09,17.0],[0.16,3.3],[0.19,12.2],[0.21,25.4],[0.23,7.5],[0.29,7.2],[0.34,15.3],[0.35,7.9],[0.50,6.3],[0.53,10.5],[0.81,10.5],[0.82,12.0],[1.04,26.2],[1.09,29.3],[1.17,23.9]];
const dKasCurve = [[-1.54,-2.8],[-1.50,-0.6],[-1.45,0.6],[-1.38,1.2],[-1.30,1.5],[-1.22,1.5],[-1.12,1.1],[-1.00,0.9],[-0.89,1.0],[-0.75,2.0],[-0.57,3.1],[-0.40,4.3],[-0.24,5.0],[-0.08,6.6],[0.08,7.7],[0.24,9.8],[0.40,11.5],[0.56,13.5],[0.72,15.7],[0.88,17.8],[1.04,20.4],[1.20,24.0],[1.36,28.4],[1.46,31.5],[1.53,34.5],[1.58,37.5],[1.62,41.0],[1.65,44.5]];
const dKasCiX = [-1.54,-1.22,-0.89,-0.57,-0.24,0.08,0.40,0.72,1.04,1.36];
const dKasCiLo = [-9.6,-5.4,-5.8,-3.5,-1.7,1.1,4.9,9.1,13.8,21.8];
const dKasCiHi = [3.9,7.7,7.2,9.6,11.5,14.2,18.0,22.2,27.0,34.9];

// ---------------- LAYOUT ----------------
const rows = {
  a: {das:[51.7,317.3], kas:[341,606.7], top:24.6, bottom:261.7, y:[0.039,2.344], ticks:aYTicks, fmt:d3.format(".1f"), ylab:0, cap:0},
  b: {das:[720,982.3], kas:[1005.7,1269], top:24.3, bottom:261.7, y:[0.1853,0.4347], ticks:bYTicks, fmt:d3.format(".2f"), ylab:1, cap:1},
  c: {das:[56.7,320], kas:[343.3,606.7], top:386, bottom:626, y:[-57.6,-5.91], ticks:cYTicks, fmt:d3.format("d"), ylab:2, cap:2},
  d: {das:[710,977.3], kas:[1001,1268.3], top:386, bottom:626, y:[-9.47,47.8], ticks:dYTicks, fmt:d3.format("d"), ylab:3, cap:3}
};
const series = {
  a: {das:{train:aDasTrain,test:aDasTest,curve:aDasCurve}, kas:{train:aKasTrain,test:aKasTest,curve:aKasCurve,ciX:aKasCiX,ciLo:aKasCiLo,ciHi:aKasCiHi}},
  b: {das:{train:bDasTrain,test:bDasTest,curve:bDasCurve}, kas:{train:bKasTrain,test:bKasTest,curve:bKasCurve,ciX:bKasCiX,ciLo:bKasCiLo,ciHi:bKasCiHi}},
  c: {das:{train:cDasTrain,test:cDasTest,curve:cDasCurve}, kas:{train:cKasTrain,test:cKasTest,curve:cKasCurve,ciX:cKasCiX,ciLo:cKasCiLo,ciHi:cKasCiHi}},
  d: {das:{train:dDasTrain,test:dDasTest,curve:dDasCurve}, kas:{train:dKasTrain,test:dKasTest,curve:dKasCurve,ciX:dKasCiX,ciLo:dKasCiLo,ciHi:dKasCiHi}}
};
// legend anchor: [lineX0, lineX1, row1Y, rowStep]
const legends = {
  a: {das:[207,231,39,15.3], kas:[471.7,495,39,15.3]},
  b: {das:[871.7,895,39,15.3], kas:[1015,1040,214.5,15.8]},
  c: {das:[65,89.3,401,15.6], kas:[470.7,495,401,15.6]},
  d: {das:[718.3,742.7,401,15.6], kas:[1009.3,1034.3,401,15.6]}
};
const yLabelOffset = {a:33, b:40, c:39, d:28.5};
const captionPos = [[308.5,347,87],[971.5,347,207],[311,705,328],[965,705,386]];

const TRAIN = "#1e90ff", LINE = "#fa8072", TEST_FILL = "#00f000", TEST_EDGE = "#2b7bba";
const FONT = "DejaVu Sans";
const svg = d3.select("#c");
const tri = d3.symbol().type(d3.symbolTriangle).size(30);

function drawPanel(key, kind) {
  const R = rows[key], S = series[key][kind], L = legends[key][kind];
  const x = d3.scaleLinear().domain([-2, 2]).range(R[kind]);
  const y = d3.scaleLinear().domain(R.y).range([R.bottom, R.top]);
  const g = svg.append("g");

  g.append("g").attr("transform", `translate(0,${R.bottom})`)
    .call(d3.axisBottom(x).tickValues(xTicks).tickFormat(d3.format("d")).tickSize(3.5).tickPadding(3.5).tickSizeOuter(0));
  if (kind === "das") {
    g.append("g").attr("transform", `translate(${R[kind][0]},0)`)
      .call(d3.axisLeft(y).tickValues(R.ticks).tickFormat(R.fmt).tickSize(3.5).tickPadding(3.5).tickSizeOuter(0));
  }
  g.selectAll(".domain").attr("stroke", "#000").attr("stroke-width", 0.8);
  g.selectAll(".tick line").attr("stroke", "#000").attr("stroke-width", 0.8);
  g.selectAll(".tick text").attr("font-family", FONT).attr("font-size", 11).attr("fill", "#222");

  // x label  y with subscript 1
  const xl = g.append("text").attr("x", (R[kind][0] + R[kind][1]) / 2).attr("y", R.bottom + 31)
    .attr("text-anchor", "middle").attr("font-family", FONT).attr("font-size", 13).attr("fill", "#222");
  xl.append("tspan").text("y");
  xl.append("tspan").attr("font-size", 9.5).attr("dy", 3).text("1");
  // title
  g.append("text").attr("x", (R[kind][0] + R[kind][1]) / 2).attr("y", R.top - 6.5)
    .attr("text-anchor", "middle").attr("font-family", FONT).attr("font-size", 12).attr("fill", "#222")
    .text(titles[kind === "das" ? 0 : 1]);

  if (kind === "das") {
    const ymid = (R.top + R.bottom) / 2;
    const lx = R[kind][0] - yLabelOffset[key];
    g.append("text").attr("transform", `translate(${lx},${ymid}) rotate(-90)`)
      .attr("text-anchor", "middle").attr("font-family", FONT).attr("font-size", 12.5).attr("fill", "#222")
      .text(yLabels[R.ylab]);
    if (key === "a") {
      g.append("text").attr("x", R[kind][0]).attr("y", 20.5).attr("font-family", FONT).attr("font-size", 11.5).attr("fill", "#222").text("1e10");
    }
  }

  g.append("g").selectAll("circle").data(S.train).join("circle")
    .attr("cx", d => x(d[0])).attr("cy", d => y(d[1])).attr("r", 2.3).attr("fill", TRAIN);
  g.append("g").selectAll("path").data(S.test).join("path")
    .attr("d", tri).attr("transform", d => `translate(${x(d[0])},${y(d[1]) + 1})`)
    .attr("fill", TEST_FILL).attr("stroke", TEST_EDGE).attr("stroke-width", 0.8);
  if (S.ciX) {
    g.append("g").selectAll("line").data(S.ciX).join("line")
      .attr("x1", d => x(d)).attr("x2", d => x(d))
      .attr("y1", (d, i) => y(S.ciLo[i])).attr("y2", (d, i) => y(S.ciHi[i]))
      .attr("stroke", LINE).attr("stroke-width", 3);
  }
  g.append("path").datum(S.curve)
    .attr("d", d3.line().x(d => x(d[0])).y(d => y(d[1])).curve(d3.curveMonotoneX))
    .attr("fill", "none").attr("stroke", LINE).attr("stroke-width", 3);

  const [l0, l1, r0, step] = L, mx = (l0 + l1) / 2, tx = l1 + 7;
  const lg = g.append("g");
  lg.append("circle").attr("cx", mx).attr("cy", r0).attr("r", 2.1).attr("fill", TRAIN);
  lg.append("path").attr("d", tri).attr("transform", `translate(${mx},${r0 + step + 1})`)
    .attr("fill", TEST_FILL).attr("stroke", TEST_EDGE).attr("stroke-width", 0.8);
  lg.append("line").attr("x1", l0).attr("x2", l1).attr("y1", r0 + 2 * step).attr("y2", r0 + 2 * step)
    .attr("stroke", LINE).attr("stroke-width", 3);
  [legendLabels[0], legendLabels[1], lineLabels[kind === "das" ? 0 : 1]].forEach((t, i) => {
    lg.append("text").attr("x", tx).attr("y", r0 + i * step + 4).attr("font-family", FONT)
      .attr("font-size", 11).attr("fill", "#222").text(t);
  });
}

["a", "b", "c", "d"].forEach(k => { drawPanel(k, "das"); drawPanel(k, "kas"); });

captions.forEach((t, i) => {
  const [cx, cy, w] = captionPos[i];
  svg.append("text").attr("x", cx).attr("y", cy).attr("text-anchor", "middle")
    .attr("font-family", "Liberation Serif, serif").attr("font-size", 24).attr("fill", "#111")
    .attr("textLength", w).attr("lengthAdjust", "spacingAndGlyphs").text(t);
});
</script></body></html>
